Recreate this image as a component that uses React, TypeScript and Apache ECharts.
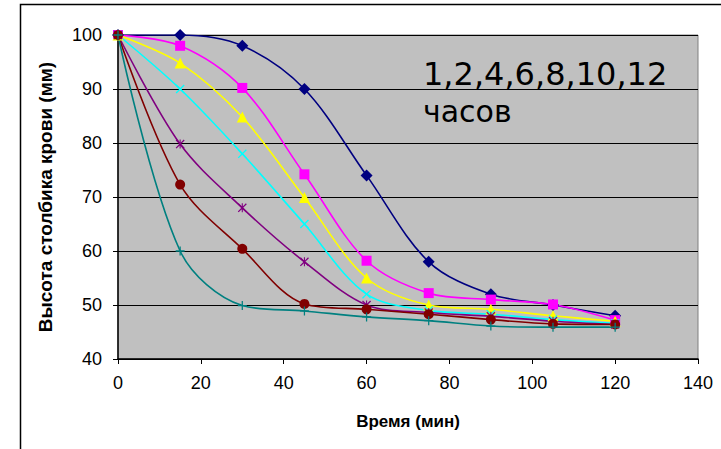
import React, { useEffect, useRef } from "react";
import * as echarts from "echarts";

const times = [0, 15, 30, 45, 60, 75, 90, 105, 120];
const seriesNavy = [100, 100, 98, 90, 74, 58, 52, 50, 48];
const seriesMagenta = [100, 98, 90.2, 74.2, 58.2, 52.2, 51, 50.1, 47.2];
const seriesYellow = [100, 94.8, 84.8, 69.9, 55, 50, 49.2, 48, 47];
const seriesCyan = [100, 90, 78, 65, 52, 49, 48.3, 47.3, 46.6];
const seriesPurple = [100, 79.8, 68, 58, 50, 48.6, 47.9, 47, 46.4];
const seriesDarkRed = [100, 72.3, 60.4, 50.2, 49.2, 48.3, 47.3, 46.5, 46.4];
const seriesTeal = [100, 60, 49.9, 48.9, 47.8, 47.1, 46.1, 45.9, 45.9];

const yTicks = [40, 50, 60, 70, 80, 90, 100];
const xTicks = [0, 20, 40, 60, 80, 100, 120, 140];

const annotation1 = "1,2,4,6,8,10,12";
const annotation2 = "часов";
const yTitle = "Высота столбика крови (мм)";
const xTitle = "Время (мин)";

const plusPath = "path://M4.3,0H5.7V4.3H10V5.7H5.7V10H4.3V5.7H0V4.3H4.3Z";
const xPath =
  "path://M1,0L5,4L9,0L10,1L6,5L10,9L9,10L5,6L1,10L0,9L4,5L0,1Z";
const starPath =
  "path://M1,0L5,4L9,0L10,1L6,5L10,9L9,10L5,6L1,10L0,9L4,5L0,1Z M4.4,0H5.6V10H4.4Z";

export default function App() {
  const ref = useRef<HTMLDivElement>(null);
  useEffect(() => {
    if (!ref.current) return;
    const chart = echarts.init(ref.current, null, { renderer: "svg" });
    const mk = (
      name: string,
      data: number[],
      color: string,
      symbol: string,
      size: number
    ) => ({
      name,
      type: "line",
      data: times.map((t, i) => [t, data[i]]),
      smooth: 0.33,
      symbol,
      symbolSize: size,
      showSymbol: true,
      lineStyle: { color, width: 1.6 },
      itemStyle: { color, borderWidth: 0 },
    });
    chart.setOption({
      animation: false,
      backgroundColor: "#ffffff",
      grid: {
        left: 118,
        right: 23,
        top: 35,
        bottom: 90,
        show: true,
        backgroundColor: "#C0C0C0",
        borderColor: "#808080",
        borderWidth: 1,
      },
      xAxis: {
        type: "value",
        min: 0,
        max: 140,
        interval: 20,
        name: xTitle,
        nameLocation: "middle",
        nameGap: 54,
        nameTextStyle: {
          fontFamily: "Liberation Sans",
          fontWeight: "bold",
          fontSize: 17,
          color: "#000",
        },
        axisLine: { show: true, onZero: false, lineStyle: { color: "#000", width: 1.5 } },
        axisTick: { show: true, length: 5, lineStyle: { color: "#000" } },
        axisLabel: {
          fontFamily: "Liberation Sans",
          fontSize: 18,
          color: "#000",
          margin: 15,
        },
        splitLine: { show: false },
      },
      yAxis: {
        type: "value",
        min: 40,
        max: 100,
        interval: 10,
        name: yTitle,
        nameLocation: "middle",
        nameGap: 63,
        nameTextStyle: {
          fontFamily: "Liberation Sans",
          fontWeight: "bold",
          fontSize: 19,
          color: "#000",
        },
        axisLine: { show: true, onZero: false, lineStyle: { color: "#000", width: 1.5 } },
        axisTick: { show: true, length: 5, lineStyle: { color: "#000" } },
        axisLabel: {
          fontFamily: "Liberation Sans",
          fontSize: 18,
          color: "#000",
          margin: 16,
        },
        splitLine: { show: true, lineStyle: { color: "#000", width: 1.2 } },
      },
      graphic: [
        {
          type: "rect",
          silent: true,
          shape: { x: 20.5, y: 4.5, width: 720, height: 470 },
          style: { fill: "none", stroke: "#000", lineWidth: 1.5 },
          z: 100,
        },
        {
          type: "text",
          x: 423,
          y: 74,
          style: {
            text: annotation1,
            font: "32px 'DejaVu Sans'",
            fill: "#000",
            verticalAlign: "middle",
          },
          z: 100,
        },
        {
          type: "text",
          x: 423,
          y: 111,
          style: {
            text: annotation2,
            font: "30px 'DejaVu Sans'",
            fill: "#000",
            verticalAlign: "middle",
          },
          z: 100,
        },
      ],
      series: [
        mk("1", seriesNavy, "#000080", "diamond", 12),
        mk("2", seriesMagenta, "#FF00FF", "rect", 10),
        mk("4", seriesYellow, "#FFFF00", "triangle", 11),
        mk("6", seriesCyan, "#00FFFF", xPath, 9),
        mk("8", seriesPurple, "#800080", starPath, 9),
        mk("10", seriesDarkRed, "#800000", "circle", 10),
        mk("12", seriesTeal, "#008080", plusPath, 9),
      ],
    });
    return () => chart.dispose();
  }, []);
  return (
    <div
      ref={ref}
      style={{ position: "fixed", left: 0, top: 0, width: 721, height: 449 }}
    />
  );
}
